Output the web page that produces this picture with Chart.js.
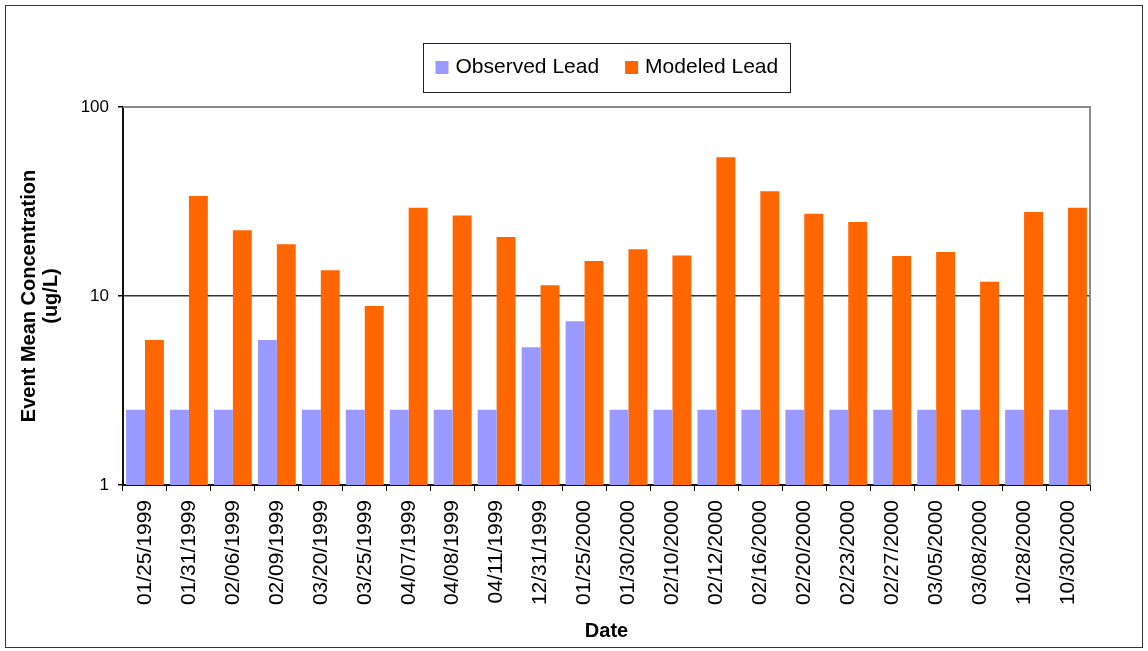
<!DOCTYPE html>
<html>
<head>
<meta charset="utf-8">
<script src="https://cdn.jsdelivr.net/npm/chart.js@4.4.1/dist/chart.umd.min.js"></script>
<style>
  html, body { margin: 0; padding: 0; background: #fff; }
</style>
</head>
<body>
<canvas id="leadChart" width="1148" height="651"></canvas>
<script>
dates = ["01/25/1999", "01/31/1999", "02/06/1999", "02/09/1999", "03/20/1999", "03/25/1999",
  "04/07/1999", "04/08/1999", "04/11/1999", "12/31/1999", "01/25/2000", "01/30/2000",
  "02/10/2000", "02/12/2000", "02/16/2000", "02/20/2000", "02/23/2000", "02/27/2000",
  "03/05/2000", "03/08/2000", "10/28/2000", "10/30/2000"];
observedLead = [2.5, 2.5, 2.5, 5.85, 2.5, 2.5, 2.5, 2.5, 2.5, 5.35, 7.35, 2.5,
  2.5, 2.5, 2.5, 2.5, 2.5, 2.5, 2.5, 2.5, 2.5, 2.5];
modeledLead = [5.85, 33.8, 22.3, 18.8, 13.7, 8.85, 29.3, 26.7, 20.5, 11.4, 15.3, 17.7,
  16.4, 54.2, 35.8, 27.2, 24.6, 16.3, 17.1, 11.9, 27.8, 29.3];
yTicks = [1, 10, 100];

seriesNames = ["Observed Lead", "Modeled Lead"];
colors = ["#9999ff", "#ff6600"];
fontName = "'Liberation Sans', Arial, sans-serif";

// frame round the plot, outer border and the boxed legend
var framePlugin = {
  id: "frame",
  beforeDraw(chart) {
    const ctx = chart.ctx;
    ctx.save();
    ctx.fillStyle = "#fff";
    ctx.fillRect(0, 0, chart.width, chart.height);
    ctx.restore();
  },
  afterDraw(chart) {
    const ctx = chart.ctx;
    const a = chart.chartArea;
    ctx.save();

    ctx.strokeStyle = "#8c8c8c";
    ctx.lineWidth = 2;
    ctx.beginPath();
    ctx.moveTo(a.left, a.top);
    ctx.lineTo(a.right, a.top);
    ctx.lineTo(a.right, a.bottom);
    ctx.stroke();

    ctx.strokeStyle = "#333";
    ctx.lineWidth = 1;
    ctx.strokeRect(5.5, 5.5, 1137, 642);

    // legend
    ctx.font = "21px " + fontName;
    const items = chart.data.datasets.map((ds) => ({
      label: ds.label,
      color: ds.backgroundColor,
      w: ctx.measureText(ds.label).width,
    }));
    const sw = 13, gapText = 7, gapItem = 26, pad = 12;
    let total = gapItem * (items.length - 1);
    for (var it of items) total += sw + gapText + it.w;
    const boxW = total + 2 * pad;
    const cx = (a.left + a.right) / 2;
    const bx = Math.round(cx - boxW / 2) + 0.5;
    const by = 43.5, bh = 49;
    ctx.strokeStyle = "#222";
    ctx.strokeRect(bx, by, Math.round(boxW), bh);

    let x = bx + pad;
    ctx.textBaseline = "middle";
    ctx.textAlign = "left";
    for (var it of items) {
      ctx.fillStyle = it.color;
      ctx.fillRect(x, 61, sw, sw);
      x += sw + gapText;
      ctx.fillStyle = "#000";
      ctx.fillText(it.label, x, 67);
      x += it.w + gapItem;
    }
    ctx.restore();
  },
};

new Chart(document.getElementById("leadChart"), {
  type: "bar",
  data: {
    labels: dates,
    datasets: [
      { label: seriesNames[0], data: observedLead, backgroundColor: colors[0] },
      { label: seriesNames[1], data: modeledLead, backgroundColor: colors[1] },
    ],
  },
  options: {
    responsive: false,
    animation: false,
    devicePixelRatio: 1,
    layout: { padding: { top: 107, right: 58, bottom: 0, left: 0 } },
    datasets: { bar: { categoryPercentage: 0.86, barPercentage: 1.0, borderWidth: 0 } },
    plugins: { legend: { display: false }, tooltip: { enabled: false } },
    scales: {
      x: {
        afterFit: function (scale) { scale.height = 166; },
        grid: { drawOnChartArea: false, drawTicks: true, tickLength: 6, tickColor: "#000", offset: true },
        border: { color: "#111", width: 2 },
        ticks: {
          minRotation: 90,
          maxRotation: 90,
          autoSkip: false,
          padding: 9,
          color: "#000",
          font: { family: fontName, size: 21 },
        },
        title: {
          display: true,
          text: "Date",
          color: "#000",
          padding: { top: 0, bottom: 8 },
          font: { family: fontName, size: 20, weight: "bold" },
        },
      },
      y: {
        type: "logarithmic",
        min: 1,
        max: 100,
        afterFit: function (scale) { scale.width = 123; },
        afterBuildTicks: function (scale) {
          scale.ticks = yTicks.map((v) => ({ value: v }));
        },
        grid: {
          color: (c) => (c.tick && c.tick.value === 10 ? "#333" : "rgba(0,0,0,0)"),
          tickColor: "#000",
          tickLength: 5,
          lineWidth: 1.5,
        },
        border: { color: "#111", width: 2 },
        ticks: {
          padding: 9,
          color: "#000",
          font: { family: fontName, size: 17 },
          callback: (v) => String(v),
        },
        title: {
          display: true,
          text: ["Event Mean Concentration", "(ug/L)"],
          color: "#000",
          padding: { top: 18, bottom: 0 },
          font: { family: fontName, size: 20, weight: "bold", lineHeight: 1.1 },
        },
      },
    },
  },
  plugins: [framePlugin],
});
</script>
</body>
</html>
